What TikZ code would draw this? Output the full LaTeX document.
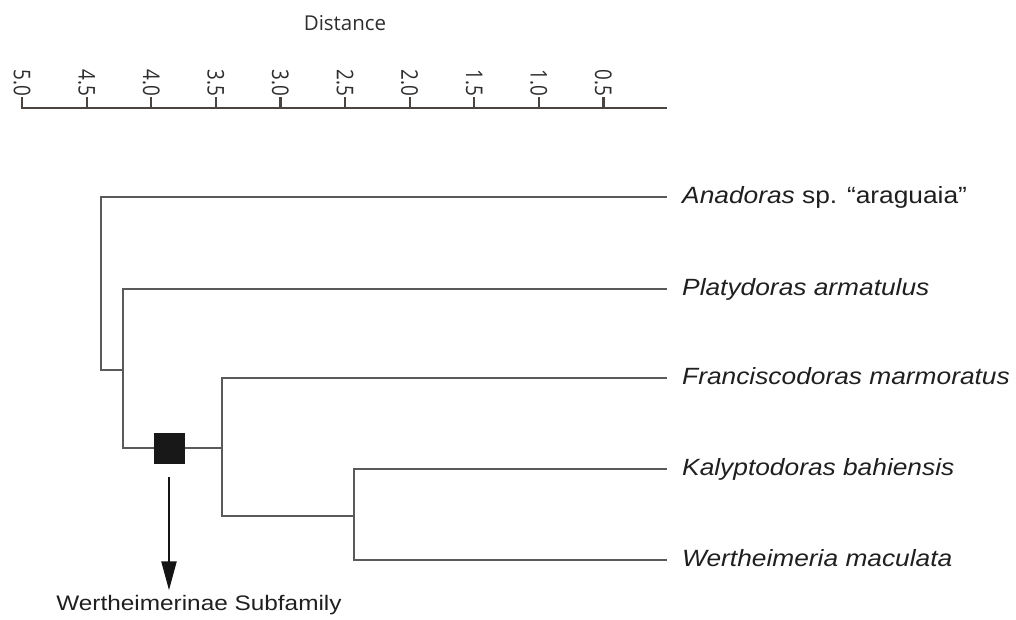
\documentclass[tikz,border=0pt]{standalone}
\usepackage{fontspec}
\setmainfont{Liberation Sans}
\newfontfamily\leaffont[FakeStretch=1.12]{Liberation Sans}
\newfontfamily\notefont[FakeStretch=1.16]{Liberation Sans}
\newfontfamily\axisfont{Open Sans}
\newfontfamily\tickfont[FakeStretch=0.82]{Open Sans}
\usetikzlibrary{arrows.meta}
\definecolor{branchgray}{HTML}{5A5A5A}
\definecolor{axisgray}{HTML}{4A4540}
\definecolor{markblack}{HTML}{181818}

\begin{document}
\begin{tikzpicture}[x=1pt,y=-1pt,
  branch/.style={draw=branchgray, line width=2.5pt, line join=miter},
  axisline/.style={draw=axisgray, line width=2.8pt},
  tickmark/.style={draw=axisgray, line width=2.2pt},
  ticklabel/.style={font=\tickfont\fontsize{23}{24}\selectfont, text=black!82,
    rotate=-90, anchor=east, inner sep=1pt},
  leaf/.style={font=\leaffont\fontsize{23.5}{26}\selectfont\itshape, text=black!88,
    anchor=west, inner xsep=15pt, inner ysep=0pt, text height=17pt, text depth=5pt},
  marker/.style={fill=markblack, minimum size=31pt, inner sep=0pt},
  pointer/.style={-{Triangle[length=29pt,width=15pt]}, line width=2.4pt, draw=black!92},
]
\useasboundingbox (0,0) rectangle (1016,619);

% distance scale
\node[font=\axisfont\fontsize{20.5}{22}\selectfont, text=black!82] (dist) at (345,23) {Distance};
\coordinate (axL) at (21,108);
\coordinate (axR) at (667,108);
\draw[axisline] (axL) -- (axR);
\foreach \d/\lab in {5/5.0,4.5/4.5,4/4.0,3.5/3.5,3/3.0,2.5/2.5,2/2.0,1.5/1.5,1/1.0,0.5/0.5}{
  \pgfmathsetmacro{\xx}{22+(5-\d)*129.2}
  \draw[tickmark] (\xx,109) -- (\xx,97);
  \node[ticklabel] at (\xx,97) {\lab};
}

% taxa
\node[leaf] (anad) at (667,197) {Anadoras\/ \upshape sp. “araguaia”};
\node[leaf] (plat) at (667,289) {Platydoras armatulus};
\node[leaf] (fran) at (667,378) {Franciscodoras marmoratus};
\node[leaf] (kaly) at (667,469) {Kalyptodoras bahiensis};
\node[leaf] (wert) at (667,560) {Wertheimeria maculata};

% internal nodes of the dendrogram
\coordinate (root) at (101,284);
\coordinate (n2) at (123,370);
\coordinate (n3) at (222,448);
\coordinate (n4) at (354,516);

\draw[branch] (root) |- (anad.west);
\draw[branch] (root) |- (n2);
\draw[branch] (n2) |- (plat.west);
\draw[branch] (n2) |- (n3);
\draw[branch] (n3) |- (fran.west);
\draw[branch] (n3) |- (n4);
\draw[branch] (n4) |- (kaly.west);
\draw[branch] (n4) |- (wert.west);

% subfamily marker
\node[marker] (mark) at (169,448.5) {};
\node[font=\notefont\fontsize{21}{24}\selectfont, text=black!88, anchor=base] (sub) at (199,610) {Wertheimerinae Subfamily};
\draw[pointer, shorten <=13pt, shorten >=1pt] (mark.south) -- (mark.south |- sub.north);
\end{tikzpicture}
\end{document}
